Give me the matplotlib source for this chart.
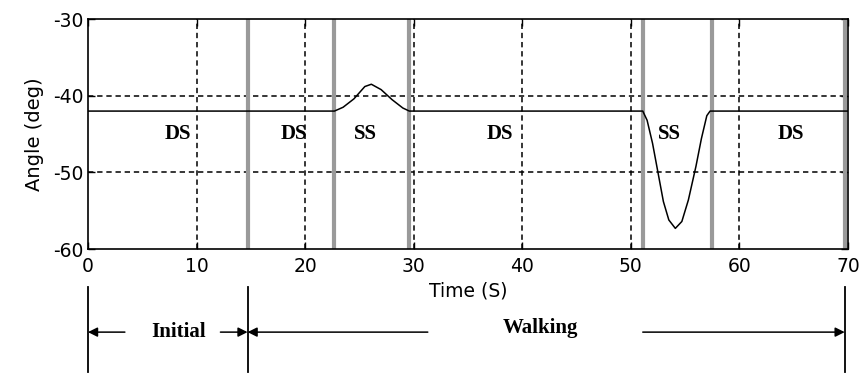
import matplotlib
matplotlib.use("Agg")
import matplotlib.pyplot as plt
import matplotlib.transforms as mtransforms

plt.rcParams["axes.unicode_minus"] = False

# ---- data ----
time_s = [0, 22.7, 23.5, 24.5, 25.5, 26.1, 27.0, 28.0, 29.0, 29.6,
          51.1, 51.5, 52.0, 52.5, 53.0, 53.5, 54.1, 54.7, 55.3, 56.0, 56.5, 57.0, 57.3, 70]
angle_deg = [-42, -42, -41.5, -40.4, -38.8, -38.5, -39.2, -40.5, -41.6, -42,
             -42, -43.2, -46.2, -50.0, -53.8, -56.2, -57.3, -56.4, -53.6, -49.2, -45.6, -42.6, -42, -42]

phase_bounds = [14.7, 22.7, 29.6, 51.1, 57.5, 69.7]
phase_labels = ["DS", "DS", "SS", "DS", "SS", "DS"]
phase_label_x = [8.3, 19.0, 25.6, 37.9, 53.6, 64.7]
phase_label_y = -45

xticks = [0, 10, 20, 30, 40, 50, 60, 70]
yticks = [-60, -50, -40, -30]
grid_x = [10, 20, 30, 40, 50, 60]
grid_y = [-50, -40]

segment_edges = [0, 14.7, 69.7]
segment_names = ["Initial", "Walking"]

fig = plt.figure(figsize=(8.65, 3.74), dpi=100)
ax = fig.add_axes([0.1017, 0.334, 0.8786, 0.615])
ax.set_xlim(0, 70)
ax.set_ylim(-60, -30)

for gx in grid_x:
    ax.axvline(gx, color="black", lw=1.1, ls=(0, (3.5, 2.5)), zorder=1)
for gy in grid_y:
    ax.axhline(gy, color="black", lw=1.1, ls=(0, (3.5, 2.5)), zorder=1)

for b in phase_bounds:
    ax.axvline(b, color="#9a9a9a", lw=3, zorder=2)

ax.plot(time_s, angle_deg, color="black", lw=1.1, zorder=3)

serif = ["Liberation Serif", "DejaVu Serif"]
for lx, lab in zip(phase_label_x, phase_labels):
    ax.text(lx, phase_label_y, lab, ha="center", va="center", fontsize=15,
            fontweight="bold", family=serif, zorder=4)

ax.set_xticks(xticks)
ax.set_yticks(yticks)
ax.tick_params(direction="in", length=5, width=1, labelsize=13.5,
               top=True, right=True)
ax.tick_params(axis="x", pad=6)
ax.tick_params(axis="y", pad=3)
for s in ax.spines.values():
    s.set_linewidth(1.2)
ax.set_xlabel("Time (S)", fontsize=13.5, labelpad=4)
ax.set_ylabel("Angle (deg)", fontsize=14, labelpad=7)

# ---- phase annotation under the axes ----
trans = mtransforms.blended_transform_factory(ax.transData, ax.transAxes)
y_top, y_bot, y_arr = -0.165, -0.535, -0.361
for e in segment_edges:
    ax.plot([e, e], [y_top, y_bot], color="black", lw=1.3, transform=trans, clip_on=False)

aprops = dict(arrowstyle="-|>", color="black", lw=1.1, mutation_scale=14,
              shrinkA=0, shrinkB=0)
# Initial
ax.annotate("", xy=(segment_edges[0], y_arr), xycoords=trans,
            xytext=(3.4, y_arr), textcoords=trans, arrowprops=aprops, annotation_clip=False)
ax.annotate("", xy=(segment_edges[1], y_arr), xycoords=trans,
            xytext=(12.2, y_arr), textcoords=trans, arrowprops=aprops, annotation_clip=False)
ax.text(8.3, y_arr, segment_names[0], transform=trans, ha="center", va="center",
        fontsize=15, fontweight="bold", family=serif)
# Walking
ax.annotate("", xy=(segment_edges[1], y_arr), xycoords=trans,
            xytext=(31.3, y_arr), textcoords=trans, arrowprops=aprops, annotation_clip=False)
ax.annotate("", xy=(segment_edges[2], y_arr), xycoords=trans,
            xytext=(51.1, y_arr), textcoords=trans, arrowprops=aprops, annotation_clip=False)
ax.text(41.7, y_arr + 0.02, segment_names[1], transform=trans, ha="center", va="center",
        fontsize=15, fontweight="bold", family=serif)

fig.savefig("out.png", dpi=100)
